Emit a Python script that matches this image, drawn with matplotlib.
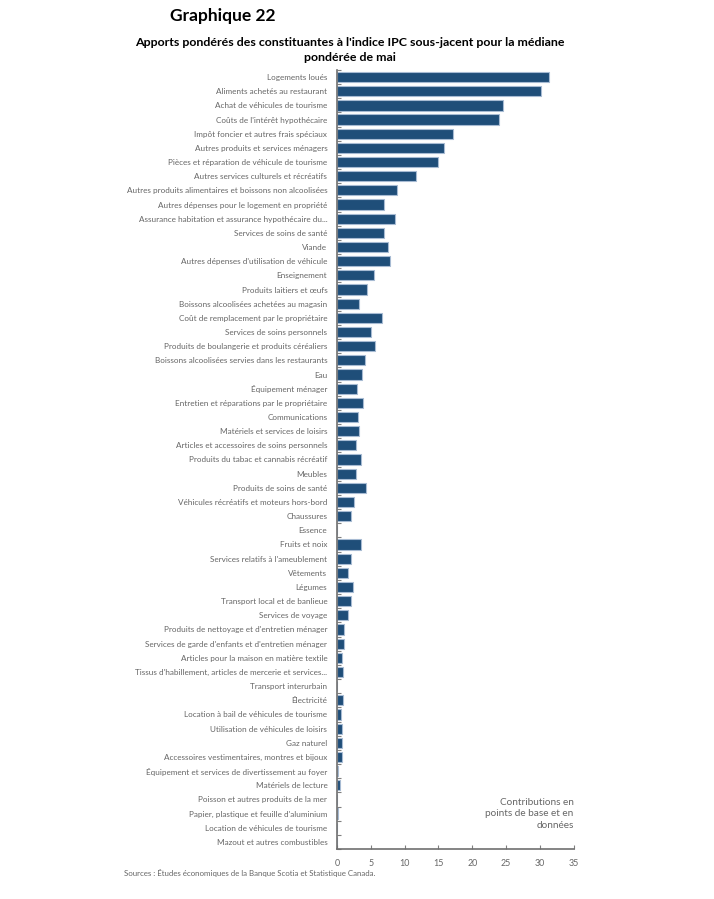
import matplotlib.pyplot as plt
import numpy as np

categories = [
    "Logements loués",
    "Aliments achetés au restaurant",
    "Achat de véhicules de tourisme",
    "Coûts de l'intérêt hypothécaire",
    "Impôt foncier et autres frais spéciaux",
    "Autres produits et services ménagers",
    "Pièces et réparation de véhicule de tourisme",
    "Autres services culturels et récréatifs",
    "Autres produits alimentaires et boissons non alcoolisées",
    "Autres dépenses pour le logement en propriété",
    "Assurance habitation et assurance hypothécaire du...",
    "Services de soins de santé",
    "Viande",
    "Autres dépenses d'utilisation de véhicule",
    "Enseignement",
    "Produits laitiers et œufs",
    "Boissons alcoolisées achetées au magasin",
    "Coût de remplacement par le propriétaire",
    "Services de soins personnels",
    "Produits de boulangerie et produits céréaliers",
    "Boissons alcoolisées servies dans les restaurants",
    "Eau",
    "Équipement ménager",
    "Entretien et réparations par le propriétaire",
    "Communications",
    "Matériels et services de loisirs",
    "Articles et accessoires de soins personnels",
    "Produits du tabac et cannabis récréatif",
    "Meubles",
    "Produits de soins de santé",
    "Véhicules récréatifs et moteurs hors-bord",
    "Chaussures",
    "Essence",
    "Fruits et noix",
    "Services relatifs à l'ameublement",
    "Vêtements",
    "Légumes",
    "Transport local et de banlieue",
    "Services de voyage",
    "Produits de nettoyage et d'entretien ménager",
    "Services de garde d'enfants et d'entretien ménager",
    "Articles pour la maison en matière textile",
    "Tissus d'habillement, articles de mercerie et services...",
    "Transport interurbain",
    "Électricité",
    "Location à bail de véhicules de tourisme",
    "Utilisation de véhicules de loisirs",
    "Gaz naturel",
    "Accessoires vestimentaires, montres et bijoux",
    "Équipement et services de divertissement au foyer",
    "Matériels de lecture",
    "Poisson et autres produits de la mer",
    "Papier, plastique et feuille d'aluminium",
    "Location de véhicules de tourisme",
    "Mazout et autres combustibles",
]

contributions = [
    31.3, 30.1, 24.6, 23.9, 17.1, 15.8, 15.0, 11.7, 8.8, 7.0,
    8.6, 6.9, 7.6, 7.8, 5.5, 4.5, 3.2, 6.6, 5.0, 5.6,
    4.1, 3.7, 2.9, 3.9, 3.1, 3.25, 2.85, 3.5, 2.85, 4.3,
    2.5, 2.0, 0.0, 3.6, 2.0, 1.6, 2.4, 2.0, 1.6, 1.0,
    1.1, 0.8, 0.85, 0.0, 0.95, 0.65, 0.7, 0.75, 0.8, 0.15,
    0.4, 0.05, 0.1, 0.0, 0.0,
]

xticks = [0, 5, 10, 15, 20, 25, 30, 35]

bar_color = "#1f4e79"
edge_color = "#a7bbd3"
text_gray = "#666666"

plt.rcParams["font.family"] = ["Lato", "DejaVu Sans"]

fig = plt.figure(figsize=(7.14, 8.99), dpi=100)
ax = fig.add_axes([337 / 714, 1 - 849 / 899, (573.7 - 337) / 714, (849 - 70) / 899])

y = np.arange(len(categories))
ax.barh(y, contributions, height=0.72, color=bar_color,
        edgecolor=edge_color, linewidth=0.8)

ax.set_ylim(len(categories) - 0.5, -0.5)
ax.set_xlim(0, 35)

ax.set_yticks(y)
ax.set_yticklabels(categories, fontsize=5.9, color=text_gray)
ax.set_yticks(np.arange(-0.5, len(categories), 1), minor=True)
ax.tick_params(axis="y", which="major", length=0, pad=7)
ax.tick_params(axis="y", which="minor", length=3, direction="in", color="#7f7f7f", width=0.8)

ax.set_xticks(xticks)
ax.set_xticklabels([str(t) for t in xticks], fontsize=6.4, color=text_gray)
ax.tick_params(axis="x", length=3, direction="in", color="#7f7f7f", width=0.8, pad=7)

for side in ["top", "right"]:
    ax.spines[side].set_visible(False)
for side in ["left", "bottom"]:
    ax.spines[side].set_color("#6f6f6f")
    ax.spines[side].set_linewidth(1.2)

ax.text(35, 52.0, "Contributions en\npoints de base et en\ndonnées", ha="right", va="center",
        fontsize=7.2, color=text_gray, linespacing=1.35)

fig.text(170 / 714, 1 - 16 / 899, "Graphique 22", fontsize=12.5, fontweight="bold",
         ha="left", va="center", color="black")
fig.text(350 / 714, 1 - 50 / 899,
         "Apports pondérés des constituantes à l'indice IPC sous-jacent pour la médiane\npondérée de mai",
         fontsize=8.9, fontweight="bold", ha="center", va="center", color="black", linespacing=1.45)
fig.text(124 / 714, 1 - 873 / 899,
         "Sources : Études économiques de la Banque Scotia et Statistique Canada.",
         fontsize=5.7, color=text_gray, ha="left", va="center")

fig.savefig("out.png", dpi=100, facecolor="white")
